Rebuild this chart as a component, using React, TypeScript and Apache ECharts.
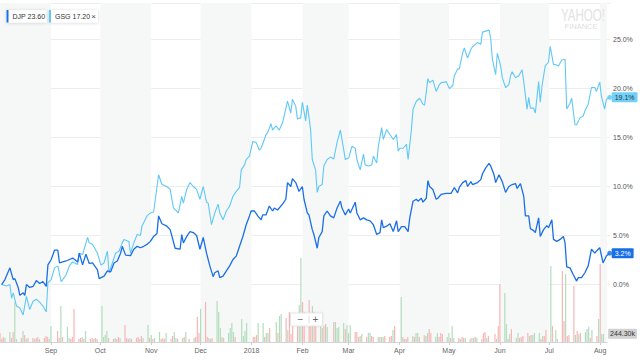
import React, { useEffect, useRef } from "react";
import * as echarts from "echarts";

// ---------- data ----------
const START = "2017-08-01";
const LAST_TRADING_DAY = "2018-08-03";
const AXIS_SPAN_DAYS = 369.2;

const MONTH_TICKS = [
  "2017-09-01", "2017-10-01", "2017-11-01", "2017-12-01", "2018-01-01", "2018-02-01",
  "2018-03-01", "2018-04-01", "2018-05-01", "2018-06-01", "2018-07-01", "2018-08-01",
];
const MONTH_NAMES = ["Jan", "Feb", "Mar", "Apr", "May", "Jun", "Jul", "Aug", "Sep", "Oct", "Nov", "Dec"];

const SHADED_MONTHS: [string, string][] = [
  ["2017-08-01", "2017-09-01"], ["2017-10-01", "2017-11-01"], ["2017-12-01", "2018-01-01"],
  ["2018-02-01", "2018-03-01"], ["2018-04-01", "2018-05-01"], ["2018-06-01", "2018-07-01"],
  ["2018-08-01", "2018-09-01"],
];

const HOLIDAYS = [
  "2017-09-04", "2017-11-23", "2017-12-25", "2018-01-01", "2018-01-15",
  "2018-02-19", "2018-03-30", "2018-05-28", "2018-07-04",
];

// [days since START, % change]
const DJP: [number, number][] = [
  [1,0],[3,0.5],[6,1.7],[8,0.5],[9,0.6],[11,-0.3],[12,-1.1],[14,-0.85],[15,-1.1],[16,0],[18,-0.3],[20,-0.2],[22,0.4],[24,0.1],[26,0.3],[28,-0.2],[29,2.0],[31,2.55],[33,3.5],[35,3.5],[36,2.2],[38,2.3],[40,2.4],[42,2.55],[44,2.7],[47,2.3],[48,3.2],[50,2.0],[52,3.1],[54,2.15],[56,2.2],[59,1.5],[60,0.6],[63,0.85],[65,1.4],[67,1.3],[69,2.2],[71,2.4],[73,3.2],[74,3.9],[76,3.0],[79,2.95],[81,3.6],[83,3.9],[85,3.75],[87,3.9],[89,4.1],[91,4.4],[93,4.9],[95,5.2],[96,7.0],[98,6.2],[101,5.95],[103,5.6],[106,3.7],[109,3.6],[110,5.1],[111,4.25],[113,4.9],[115,5.4],[117,5.3],[119,5.0],[121,3.6],[123,4.8],[125,3.2],[127,1.9],[129,0.8],[130,1.2],[132,1.4],[133,0.7],[135,0.85],[137,1.4],[139,1.9],[141,2.55],[143,2.9],[145,3.9],[147,4.9],[149,6.1],[151,7.0],[152,7.5],[154,7.5],[156,7.0],[158,6.6],[159,7.1],[161,7.1],[163,8.0],[165,7.5],[166,7.8],[168,7.6],[171,8.2],[173,8.7],[174,10.4],[176,10.0],[177,10.8],[179,10.4],[181,9.5],[183,10.0],[184,8.7],[186,7.3],[187,7.1],[189,5.6],[190,5.1],[192,3.7],[193,4.8],[195,5.4],[196,7.0],[198,7.5],[200,7.0],[202,6.8],[204,7.8],[206,8.5],[207,7.8],[209,7.1],[211,7.7],[212,7.3],[215,8.4],[216,7.3],[218,6.6],[220,6.8],[222,6.6],[224,6.5],[226,6.1],[228,5.1],[230,5.3],[231,6.6],[232,5.8],[234,5.95],[236,6.2],[238,5.4],[240,6.5],[241,5.4],[243,5.9],[245,5.9],[247,5.4],[248,6.8],[250,8.5],[252,8.7],[253,8.5],[255,8.8],[256,8.4],[258,8.8],[259,10.6],[260,10.0],[262,9.7],[264,8.7],[265,8.8],[267,9.2],[270,9.3],[273,9.3],[275,9.9],[277,9.35],[278,9.9],[280,10.4],[282,10.6],[283,10.0],[285,10.5],[286,10.2],[289,10.4],[291,10.7],[292,11.3],[294,11.9],[296,12.35],[297,12.1],[299,11.2],[300,10.4],[302,11.2],[304,10.5],[306,9.4],[308,10.0],[310,10.2],[312,10.3],[313,9.8],[315,10.3],[317,9.0],[318,7.0],[320,7.0],[321,5.7],[323,5.5],[324,5.3],[326,6.8],[327,4.9],[329,5.6],[331,6.0],[332,5.8],[334,6.6],[335,4.6],[337,4.4],[339,4.6],[341,4.9],[342,4.25],[343,1.8],[345,1.7],[347,1.0],[349,0.35],[350,0.7],[352,0.7],[354,1.2],[356,1.9],[358,3.6],[360,3.2],[362,3.6],[363,3.75],[365,2.2],[367,2.9],[369,3.2],
];

const GSG: [number, number][] = [
  [1,0],[4,-0.15],[6,0],[7,-1.4],[8,-0.85],[10,-2.2],[12,-2.4],[14,-3.1],[16,-1.2],[18,-2.55],[20,-1.7],[22,-1.5],[24,-1.8],[26,-2.2],[28,-2.8],[29,0.2],[31,0.5],[33,1.7],[35,1.9],[37,0.3],[38,0.5],[40,1.0],[42,1.9],[44,2.3],[47,2.05],[48,3.2],[50,3.05],[53,4.8],[54,4.25],[56,4.1],[59,3.2],[61,2.0],[63,2.2],[65,3.4],[66,1.2],[68,2.2],[70,3.2],[72,3.4],[74,4.25],[75,4.6],[78,4.4],[79,3.2],[81,4.25],[83,5.1],[85,5.0],[86,6.0],[89,7.0],[91,7.3],[93,7.4],[94,8.7],[96,11.2],[98,10.2],[101,10.0],[103,9.7],[105,7.8],[108,7.3],[110,9.0],[111,8.3],[113,9.7],[115,10.4],[117,10.0],[119,9.7],[121,8.7],[123,10.0],[125,8.4],[126,8.3],[128,6.1],[130,7.3],[132,8.2],[133,7.3],[135,6.6],[137,7.5],[139,8.0],[141,9.0],[143,9.5],[145,9.9],[146,11.7],[148,12.2],[149,12.75],[151,13.1],[153,14.6],[155,14.5],[157,13.7],[158,13.9],[160,14.8],[161,15.3],[162,15.5],[164,16.4],[165,15.75],[167,16.2],[169,15.75],[171,16.5],[172,17.2],[174,18.7],[176,17.5],[177,18.9],[179,18.2],[180,16.9],[182,17.0],[183,18.6],[185,16.7],[186,18.3],[188,15.8],[189,12.75],[191,11.7],[192,9.4],[193,10.0],[195,10.2],[196,12.1],[198,12.75],[200,13.0],[202,12.8],[204,14.5],[206,15.75],[207,14.8],[209,12.75],[211,12.9],[213,14.1],[215,13.9],[216,12.75],[218,11.7],[220,13.3],[221,12.2],[223,12.1],[225,12.2],[226,13.1],[228,12.4],[229,14.1],[231,16.0],[232,14.8],[234,15.8],[236,15.3],[238,14.8],[240,15.3],[241,13.6],[242,13.9],[244,13.9],[246,14.3],[247,12.75],[249,15.8],[250,17.9],[252,18.7],[254,19.0],[256,18.4],[257,18.3],[259,21.0],[260,20.6],[262,20.85],[264,19.7],[266,20.4],[267,20.6],[269,20.65],[270,20.7],[272,20.0],[274,20.3],[275,21.3],[277,22.0],[278,22.0],[280,23.6],[281,24.15],[283,23.1],[285,24.0],[286,24.25],[289,24.7],[291,24.5],[292,25.75],[294,25.85],[296,25.95],[297,25.1],[298,23.0],[300,21.4],[301,23.6],[303,22.3],[304,21.1],[306,20.1],[308,20.4],[309,21.3],[310,21.7],[312,21.1],[314,21.3],[316,21.9],[317,20.7],[319,17.9],[320,19.1],[321,18.0],[323,18.0],[324,17.5],[326,20.7],[327,18.6],[328,20.2],[330,22.3],[332,22.7],[333,24.3],[335,22.45],[336,22.45],[338,22.3],[340,22.9],[342,22.95],[343,17.9],[345,18.5],[346,19.0],[348,16.3],[349,16.3],[351,17.0],[353,17.2],[354,17.7],[356,18.4],[358,20.1],[360,20.1],[361,19.7],[363,20.65],[364,19.2],[366,17.9],[367,18.9],[369,19.1],
];

// daily volume in thousands, one per trading day; positive = up day, negative = down day
const VOLUME = [
  -270,-90,-150,120, 300,-120,-300,1200,90, -120,330,-210,90,-120, -120,90,-120,-150,90, -120,-180,-150,90,
  480, -330,-120,1080,-150, 450,120,-90,-150,-990, -90,-120,150,-90,330, -90,-120,90,-120,-90,
  1080,150,210,330,-120, -90,120,-90,-150,120, -510,-120,-90,120,-90, -120,-150,-90,-180,120, 510,-120,
  210,-90,120, 300,-90,-120,-90,270, -90,-180,300,120,-90, 120,-150,300,-90, 120,-150,-750,-270,
  990, -1200,-150,120,-90,-120, 1230,900,420,-150,120, 270,420,570,300,-150, 690,180,330,570,
  -150,-150,-210,570, 570,-150,270,270,-420, 600,-270,780,840, -720,360,-900,-240,-720, -870,1110,2520,
  -1200,-900, -1260,-840,1080,-900,-750, 480,-420,480,-540,450, -600,600,420,450, 570,-390,510,
  270,510, -300,-300,150,-180,240, -150,270,270,-180,-150, 150,-150,150,150,-180, -150,-180,360,-480,
  1350,-150,90,-90,-150, 180,-150,270,270,-150, 210,-180,270,-390,-270, 150,270,-150,-270,-240, 150,
  270,-120,480,120, -120,90,-150,-120,120, -90,120,120,-150,120, -90,-270,-300,120,-180, -240,90,-480,
  -1740, 1470,540,-90,240,-390, 120,270,-120,-150,-180, -270,180,-210,210,270, 270,-90,180,-180,-360,
  2280,-480, 360,90, -2130,-630,2040,-180,-210, -1680,210,-330,240,-270, 300,390,450,-120,360, -180,690,
  -2340,240,244.3,
];

const LEGEND = [
  { symbol: "DJP", price: "23.60" },
  { symbol: "GSG", price: "17.20" },
];

// ---------- styling ----------
const DJP_COLOR = "#1a6fe6";
const GSG_COLOR = "#5fc8f8";
const UP_COLOR = "#b3ddbe";
const DOWN_COLOR = "#f7b6b6";
const BAND_COLOR = "#f6f8f8";
const FONT = "'Liberation Sans', Arial, Helvetica, sans-serif";
const DAY = 86400000;
const TOP_Z = 100;

const ts = (s: string) => new Date(s + "T00:00:00Z").getTime();

export default function App() {
  const ref = useRef<HTMLDivElement>(null);

  useEffect(() => {
    if (!ref.current) return;
    const chart = echarts.init(ref.current, undefined, { renderer: "svg" });

    const t0 = ts(START);
    const tMax = t0 + AXIS_SPAN_DAYS * DAY;

    const tradingDays: number[] = [];
    for (let t = t0; t <= ts(LAST_TRADING_DAY); t += DAY) {
      const d = new Date(t);
      const wd = d.getUTCDay();
      const iso = d.toISOString().slice(0, 10);
      if (wd === 0 || wd === 6 || HOLIDAYS.includes(iso)) continue;
      tradingDays.push(t);
    }

    const djpData = DJP.map(([d, v]) => [t0 + d * DAY, v]);
    const gsgData = GSG.map(([d, v]) => [t0 + d * DAY, v]);
    const volData = VOLUME.map((v, i) => ({
      value: [tradingDays[i], Math.abs(v)],
      itemStyle: { color: v >= 0 ? UP_COLOR : DOWN_COLOR },
    }));
    const lastVol = Math.abs(VOLUME[VOLUME.length - 1]);
    const monthTicks = MONTH_TICKS.map(ts);

    const pctFmt = (v: number) => v.toFixed(1) + "%";

    const chip = (x: number, w: number, color: string, label: string) => [
      {
        type: "rect",
        z: TOP_Z,
        shape: { x, y: 10, width: w, height: 12.5 },
        style: { fill: "#fff", shadowBlur: 3, shadowColor: "rgba(0,0,0,0.18)", shadowOffsetY: 0.5 },
      },
      { type: "rect", z: TOP_Z + 1, shape: { x, y: 10, width: 2, height: 12.5 }, style: { fill: color } },
      {
        type: "text",
        z: TOP_Z + 1,
        x: x + 6,
        y: 16.5,
        style: { text: label, fontSize: 7, fontFamily: FONT, fill: "#333", verticalAlign: "middle" },
      },
    ];

    const option: any = {
      animation: false,
      textStyle: { fontFamily: FONT },
      grid: [
        { left: 0, right: 30, top: 3, bottom: 31 },
        { left: 0, right: 30, top: 3, bottom: 19 },
      ],
      xAxis: [
        { type: "value", gridIndex: 0, min: t0, max: tMax, show: false, splitLine: { show: false } },
        {
          type: "value",
          gridIndex: 1,
          min: t0,
          max: tMax,
          axisLine: { lineStyle: { color: "#d4d4d4", width: 1 } },
          axisTick: { customValues: monthTicks, length: 3, lineStyle: { color: "#cfcfcf" } },
          axisLabel: {
            customValues: monthTicks,
            fontSize: 7,
            color: "#666",
            margin: 5,
            fontFamily: FONT,
            formatter: (v: number) => {
              const d = new Date(v);
              const m = d.getUTCMonth();
              return m === 0 ? String(d.getUTCFullYear()) : MONTH_NAMES[m];
            },
          },
          splitLine: { show: false },
        },
      ],
      yAxis: [
        {
          type: "value",
          gridIndex: 0,
          position: "right",
          min: -4.64,
          max: 28.72,
          axisLine: { show: false },
          axisTick: { show: false },
          splitLine: { lineStyle: { color: "#ededed", width: 1 }, showMinLine: false, showMaxLine: true },
          axisLabel: {
            showMinLabel: false,
            showMaxLabel: false,
            fontSize: 7,
            color: "#555",
            margin: 3,
            fontFamily: FONT,
            formatter: pctFmt,
          },
        },
        {
          type: "value",
          gridIndex: 1,
          position: "right",
          min: 0,
          max: 10170,
          axisLine: { show: false },
          axisTick: { show: false },
          splitLine: { show: false },
          axisLabel: {
            customValues: [lastVol],
            fontSize: 7,
            color: "#333",
            margin: 1,
            fontFamily: FONT,
            backgroundColor: "#d2d2d2",
            padding: [2, 2, 1, 2],
            borderRadius: 1,
            formatter: (v: number) => v.toFixed(2) + "k",
          },
        },
      ],
      series: [
        {
          type: "custom",
          xAxisIndex: 1,
          yAxisIndex: 1,
          z: 0,
          silent: true,
          clip: true,
          encode: { x: [0, 1] },
          data: SHADED_MONTHS.map(([a, b]) => [ts(a), Math.min(ts(b), tMax)]),
          renderItem: (params: any, api: any) => {
            const s = api.coord([api.value(0), 0]);
            const e = api.coord([api.value(1), 0]);
            const cs = params.coordSys;
            return {
              type: "rect",
              shape: { x: s[0], y: cs.y, width: e[0] - s[0], height: cs.height },
              style: { fill: BAND_COLOR },
            };
          },
        },
        {
          type: "bar",
          xAxisIndex: 1,
          yAxisIndex: 1,
          z: 1,
          barWidth: 1.2,
          silent: true,
          data: volData,
        },
        {
          name: "GSG",
          type: "line",
          xAxisIndex: 0,
          yAxisIndex: 0,
          z: 3,
          showSymbol: false,
          data: gsgData,
          lineStyle: { color: GSG_COLOR, width: 1.1 },
          itemStyle: { color: GSG_COLOR },
          endLabel: {
            show: true,
            formatter: (p: any) => pctFmt(p.value[1]),
            fontSize: 7,
            fontFamily: FONT,
            color: "#1f3a4d",
            backgroundColor: "#73d0f7",
            padding: [2, 3, 1, 3],
            borderRadius: 1,
            distance: 2,
          },
        },
        {
          name: "DJP",
          type: "line",
          xAxisIndex: 0,
          yAxisIndex: 0,
          z: 4,
          showSymbol: false,
          data: djpData,
          lineStyle: { color: DJP_COLOR, width: 1.3 },
          itemStyle: { color: DJP_COLOR },
          endLabel: {
            show: true,
            formatter: (p: any) => pctFmt(p.value[1]),
            fontSize: 7,
            fontFamily: FONT,
            color: "#ffffff",
            backgroundColor: DJP_COLOR,
            padding: [2, 3, 1, 3],
            borderRadius: 1,
            distance: 2,
          },
        },
        {
          type: "scatter",
          xAxisIndex: 0,
          yAxisIndex: 0,
          z: 5,
          symbolSize: 5,
          silent: true,
          data: [
            { value: gsgData[gsgData.length - 1], itemStyle: { color: GSG_COLOR } },
            { value: djpData[djpData.length - 1], itemStyle: { color: DJP_COLOR } },
          ],
        },
      ],
      graphic: [
        {
          type: "text",
          z: TOP_Z,
          x: 583,
          y: 15.5,
          scaleX: 0.72,
          style: {
            text: "YAHOO!",
            fontSize: 16,
            fontFamily: FONT,
            fill: "#e2e2e2",
            align: "center",
            verticalAlign: "middle",
          },
          silent: true,
        },
        {
          type: "text",
          z: TOP_Z,
          x: 581,
          y: 26,
          style: {
            text: "FINANCE",
            fontSize: 7.5,
            fontFamily: FONT,
            fill: "#e0e0e0",
            align: "center",
            verticalAlign: "middle",
          },
          silent: true,
        },
        ...chip(6.5, 40, DJP_COLOR, `${LEGEND[0].symbol} ${LEGEND[0].price}`),
        ...chip(49, 49, GSG_COLOR, `${LEGEND[1].symbol} ${LEGEND[1].price}`),
        {
          type: "text",
          z: TOP_Z + 1,
          x: 93.5,
          y: 16.5,
          style: { text: "×", fontSize: 8, fontFamily: FONT, fill: "#444", align: "center", verticalAlign: "middle" },
        },
        // zoom buttons
        {
          type: "rect",
          z: TOP_Z,
          shape: { x: 290.5, y: 313, width: 32, height: 13 },
          style: { fill: "#fff", stroke: "#e6e6e6", lineWidth: 1, shadowBlur: 2, shadowColor: "rgba(0,0,0,0.08)" },
        },
        {
          type: "line",
          z: TOP_Z + 1,
          shape: { x1: 309, y1: 315.5, x2: 309, y2: 323.5 },
          style: { stroke: "#dddddd", lineWidth: 1 },
        },
        {
          type: "text",
          z: TOP_Z + 1,
          x: 300.5,
          y: 319.5,
          style: { text: "−", fontSize: 10, fontFamily: FONT, fill: "#666", align: "center", verticalAlign: "middle" },
        },
        {
          type: "text",
          z: TOP_Z + 1,
          x: 315.5,
          y: 319.5,
          style: { text: "+", fontSize: 10, fontFamily: FONT, fill: "#666", align: "center", verticalAlign: "middle" },
        },
      ],
    };

    chart.setOption(option);
    return () => chart.dispose();
  }, []);

  return (
    <div
      ref={ref}
      style={{ position: "fixed", left: 0, top: 0, width: 640, height: 361, background: "#fff" }}
    />
  );
}
